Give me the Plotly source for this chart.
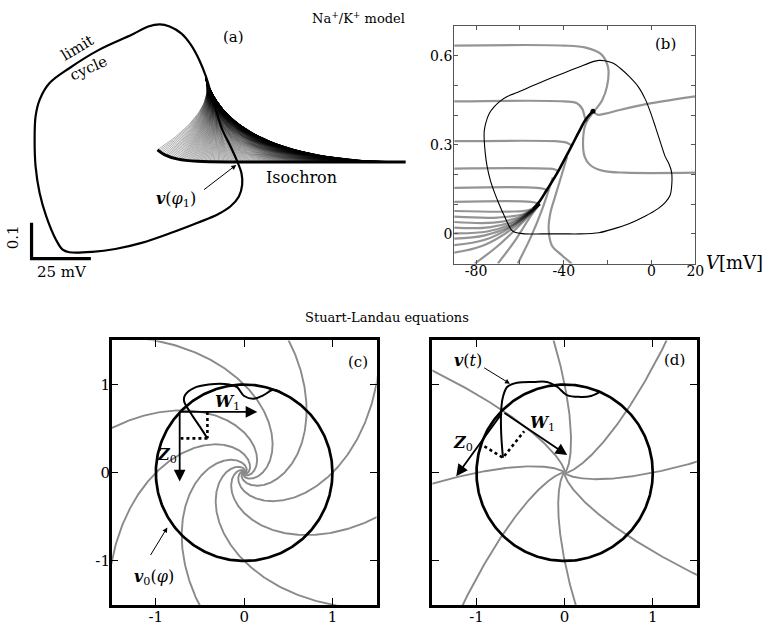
import numpy as np
import plotly.graph_objects as go

W, H = 777, 626
SERIF = "DejaVu Serif"
GRAY = "rgba(0,0,0,0.42)"

# ---------------- (a) Na+/K+ limit cycle (V in mV, n gating variable) ----------------
cycle_a_V = [-70.8, -61.1, -51.4, -40.3, -27.8, -16.7, -8.3, -2.8, 0.7, 2.1, 1.8, 0.3,
             -2.8, -6.3, -9.0, -11.1, -13.2, -16.0, -19.5, -23.6, -28.5, -32.6, -37.5,
             -44.5, -58.3, -70.8, -79.2, -83.3, -85.0, -85.4, -85.0, -83.3, -80.5, -76.4,
             -73.6, -70.8]
cycle_a_n = [0.001, 0.002, 0.010, 0.027, 0.055, 0.083, 0.106, 0.129, 0.156, 0.189, 0.221,
             0.249, 0.295, 0.342, 0.397, 0.444, 0.490, 0.536, 0.578, 0.610, 0.629, 0.635,
             0.629, 0.606, 0.564, 0.513, 0.471, 0.425, 0.379, 0.314, 0.240, 0.166, 0.101,
             0.036, 0.008, 0.001]
iso_a_V = [-33.6, -30.5, -25.0, -16.7, 0.0, 25.0, 71.0]
iso_a_n = [0.286, 0.272, 0.260, 0.254, 0.252, 0.252, 0.252]
# trajectories from the isochron rejoin the cycle here; bend points for the two extreme ones
fan_end = (-13.33, 0.486)
fan_bend_first = (-9.17, 0.392)
fan_bend_last = (-2.08, 0.2528)
n_fan = 180
scale_mV = 25
scale_n = 0.1
scale_corner = (-86.7, -0.0167)

# ---------------- (b) Na+/K+ phase plane ----------------
cycle_b_V = [-62.6, -58, -50, -40, -32.7, -24, -17.7, -10, -2.75, 3, 6.2, 8.5, 9.2, 9.2, 8,
             6.2, 4, 1.7, -0.5, -2.75, -6, -10.2, -14, -17.7, -21.4, -24, -26.7, -33, -40.2,
             -48, -55.1, -60, -65.6, -69, -71.6, -74, -75.6, -76.3, -76.3, -75.8, -75.0, -73.5,
             -71.6, -69.5, -67.1, -64.1, -62.6]
cycle_b_n = [0.006, 0, 0, 0, 0, 0.004, 0.016, 0.035, 0.06, 0.085, 0.105, 0.13, 0.161, 0.206,
             0.235, 0.261, 0.31, 0.362, 0.41, 0.452, 0.495, 0.53, 0.556, 0.575, 0.583, 0.584,
             0.58, 0.562, 0.541, 0.518, 0.496, 0.48, 0.463, 0.447, 0.429, 0.405, 0.373, 0.345,
             0.317, 0.27, 0.228, 0.18, 0.139, 0.1, 0.06, 0.015, 0.006]
front_V = [-54, -51, -48, -45, -42, -39, -36, -33, -30, -26.7]
front_n = [0.085, 0.11, 0.145, 0.18, 0.218, 0.26, 0.302, 0.345, 0.385, 0.413]
iso_b_V = [
    [-90, -40, -30, -23, -19.8, -20.2, -22.5, -26],
    [-90, -40, -34, -31.5, -30.5, -29.5],
    [20, 0, -14, -21, -24.5, -26.5],
    [-27, -30, -31.2, -30.5, -28, -22, -12, 20],
    [-90, -44, -39, -36.5],
    [-90, -48, -44, -42.5],
    [-90, -52, -48.5, -47],
    [-90, -55, -52, -51],
    [-90, -65, -56, -51],
    [-90, -70, -58, -51],
    [-90, -72, -60, -51],
    [-90, -74, -61, -51],
    [-90, -75, -62, -51],
    [-90, -76, -62, -51],
    [-90, -76, -63, -51],
    [-90, -77, -63, -51],
    [-80.6, -70, -60, -51],
    [-70.1, -62, -56, -51],
    [-61, -55, -50, -45],
    [-36.4, -42, -45.4, -46.9, -46.1, -43.9, -41.6, -39.5, -38.5],
]
iso_b_n = [
    [0.634, 0.634, 0.627, 0.605, 0.56, 0.5, 0.45, 0.415],
    [0.446, 0.446, 0.44, 0.42, 0.395, 0.378],
    [0.463, 0.44, 0.418, 0.405, 0.401, 0.412],
    [0.405, 0.37, 0.32, 0.26, 0.232, 0.212, 0.206, 0.206],
    [0.312, 0.312, 0.308, 0.298],
    [0.22, 0.22, 0.217, 0.21],
    [0.155, 0.155, 0.15, 0.145],
    [0.108, 0.108, 0.103, 0.098],
    [0.077, 0.075, 0.08, 0.1],
    [0.058, 0.055, 0.068, 0.1],
    [0.04, 0.038, 0.057, 0.1],
    [0.021, 0.022, 0.048, 0.1],
    [0.002, 0.008, 0.04, 0.1],
    [-0.016, -0.005, 0.035, 0.1],
    [-0.038, -0.02, 0.028, 0.1],
    [-0.063, -0.04, 0.02, 0.1],
    [-0.1, -0.04, 0.03, 0.1],
    [-0.1, -0.02, 0.05, 0.1],
    [-0.1, -0.01, 0.08, 0.19],
    [-0.1, -0.065, -0.04, 0.015, 0.071, 0.127, 0.183, 0.235, 0.26],
]
b_xticks = [-80, -40, 0, 20]
b_yticks = [0, 0.3, 0.6]

# ---------------- (c), (d) Stuart-Landau ----------------
iso_phases_deg = [0, 45, 90, 135, 180, 225, 270, 315]
twist_c = 1.0
twist_d = 0.2
r_cycle = 1.0
cd_ticks = [-1, 0, 1]
traj_c_x = [-0.416, -0.50, -0.60, -0.68, -0.67, -0.57, -0.40, -0.17, -0.08, 0.0, 0.11, 0.22, 0.33, 0.42]
traj_c_y = [0.39, 0.52, 0.67, 0.81, 0.88, 0.96, 1.0, 1.0, 0.97, 0.87, 0.84, 0.88, 0.94, 0.907]
traj_d_x = [-0.70, -0.72, -0.72, -0.70, -0.65, -0.54, -0.35, -0.2, -0.086, 0.026, 0.176, 0.30, 0.40]
traj_d_y = [0.17, 0.45, 0.71, 0.86, 0.975, 1.02, 1.03, 1.03, 0.975, 0.88, 0.86, 0.87, 0.917]
base_c = (-0.73, 0.69)
W1_c = (0.15, 0.69)
Z0_c = (-0.73, -0.10)
dots_c_x = [-0.416, -0.416, None, -0.416, -0.72]
dots_c_y = [0.69, 0.39, None, 0.39, 0.39]
base_d = (-0.70, 0.69)
W1_d = (0.03, 0.20)
Z0_d = (-1.23, -0.04)
dots_d_x = [-0.91, -0.70, -0.46]
dots_d_y = [0.30, 0.17, 0.47]


def xdom(a, b):
    return [a / W, b / W]


def ydom(top, bottom):
    return [1 - bottom / H, 1 - top / H]


fig = go.Figure()


def line(x, y, ax, color="black", width=1.5, dash=None, shape="linear", smoothing=1.0):
    fig.add_trace(go.Scatter(
        x=x, y=y, mode="lines", xaxis="x" + ax, yaxis="y" + ax, hoverinfo="skip",
        line=dict(color=color, width=width, dash=dash, shape=shape, smoothing=smoothing),
        showlegend=False))


# ---- (a): limit cycle underneath, then the fan of trajectories leaving the isochron
line(cycle_a_V, cycle_a_n, "", width=2.2, shape="spline")
iV0, iV1 = iso_a_V[0], iso_a_V[-1]
t = np.linspace(0, 1, 30)
for sV in np.linspace(iV0, iV1, n_fan):
    u = (sV - iV0) / (iV1 - iV0)
    sn = np.interp(sV, iso_a_V, iso_a_n)
    cV = fan_bend_first[0] + (fan_bend_last[0] - fan_bend_first[0]) * u
    cn = fan_bend_first[1] + (fan_bend_last[1] - fan_bend_first[1]) * u
    bV = (1 - t) ** 2 * sV + 2 * (1 - t) * t * cV + t ** 2 * fan_end[0]
    bn = (1 - t) ** 2 * sn + 2 * (1 - t) * t * cn + t ** 2 * fan_end[1]
    alpha = 0.42 + 0.18 * u
    line(bV, bn, "", color=f"rgba(0,0,0,{alpha:.3f})", width=0.75)

line(iso_a_V, iso_a_n, "", width=3.0, shape="spline")
sx, sy = scale_corner
line([sx, sx, sx + scale_mV], [sy + scale_n, sy, sy], "", width=3.2)

# ---- (b)
for xs, ys in zip(iso_b_V, iso_b_n):
    line(xs, ys, "2", color=GRAY, width=2.2, shape="spline")
line(cycle_b_V, cycle_b_n, "2", width=1.1, shape="spline", smoothing=0.7)
line(front_V, front_n, "2", width=2.6, shape="spline")
fig.add_trace(go.Scatter(x=[front_V[-1]], y=[front_n[-1]], mode="markers", xaxis="x2", yaxis="y2",
                         marker=dict(size=5, color="black"), showlegend=False, hoverinfo="skip"))

# ---- (c), (d)
r = np.geomspace(0.004, 2.3, 500)
phi = np.linspace(0, 2 * np.pi, 300)
for ax, twist in (("3", twist_c), ("4", twist_d)):
    for p in iso_phases_deg:
        th = np.deg2rad(p) + twist * np.log(r)
        line(r * np.cos(th), r * np.sin(th), ax, color="#8a8a8a", width=1.9)
    line(r_cycle * np.cos(phi), r_cycle * np.sin(phi), ax, width=2.7)

line(traj_c_x, traj_c_y, "3", width=2.0, shape="spline")
line(dots_c_x, dots_c_y, "3", width=2.6, dash="dot")
line(traj_d_x, traj_d_y, "4", width=2.0, shape="spline")
line(dots_d_x, dots_d_y, "4", width=2.6, dash="dot")

annotations = []


def text(x, y, s, ax="", size=15, angle=0, xanchor="center", yanchor="middle"):
    annotations.append(dict(x=x, y=y, xref="x" + ax, yref="y" + ax, text=s, showarrow=False,
                            textangle=angle, xanchor=xanchor, yanchor=yanchor,
                            font=dict(family=SERIF, size=size, color="black")))


def arrow(tail, head, ax, width=1.0, size=1.0, head_style=2):
    annotations.append(dict(x=head[0], y=head[1], ax=tail[0], ay=tail[1], xref="x" + ax, yref="y" + ax,
                            axref="x" + ax, ayref="y" + ax, text="", showarrow=True,
                            arrowhead=head_style, arrowsize=size, arrowwidth=width,
                            arrowcolor="black", standoff=0, startstandoff=0))


def paper_text(px, py, s, size=13, angle=0, xanchor="center"):
    annotations.append(dict(x=px / W, y=1 - py / H, xref="paper", yref="paper", text=s,
                            showarrow=False, textangle=angle, xanchor=xanchor, yanchor="middle",
                            font=dict(family=SERIF, size=size, color="black")))


paper_text(363, 18, "Na<sup>+</sup>/K<sup>+</sup> model", size=13)
paper_text(392, 318, "Stuart-Landau equations", size=13)

# (a) labels
text(-1.5, 0.60, "(a)", size=15)
text(-67.5, 0.569, "limit", size=15, angle=-31)
text(-62.5, 0.514, "cycle", size=15, angle=-24)
text(27, 0.208, "Isochron", size=16)
text(-25.8, 0.147, "<b><i>v</i></b>(<i>φ</i><sub>1</sub>)", size=16)
arrow((-14.6, 0.172), (-0.4, 0.244), "", width=1.0, size=1.0)
text(-94.2, 0.042, "0.1", size=15, angle=-90)
text(-73.75, -0.053, f"{scale_mV} mV", size=15)

# (b) labels
text(6.5, 0.64, "(b)", "2", size=15)
paper_text(743, 263, "<i>V</i>[mV]", size=18)

# (c) labels
arrow(base_c, W1_c, "3", width=1.8, size=1.3)
arrow(base_c, Z0_c, "3", width=1.8, size=1.3)
text(-0.19, 0.80, "<b><i>W</i></b><sub>1</sub>", "3", size=16)
text(-0.87, 0.20, "<b><i>Z</i></b><sub>0</sub>", "3", size=16)
text(1.29, 1.26, "(c)", "3", size=15)
text(-1.02, -1.19, "<b><i>v</i></b><sub>0</sub>(<i>φ</i>)", "3", size=16)
arrow((-1.07, -0.95), (-0.87, -0.62), "3", width=1.0, size=1.0)

# (d) labels
arrow(base_d, W1_d, "4", width=1.8, size=1.3)
arrow(base_d, Z0_d, "4", width=1.8, size=1.3)
text(-0.25, 0.56, "<b><i>W</i></b><sub>1</sub>", "4", size=16)
text(-1.15, 0.33, "<b><i>Z</i></b><sub>0</sub>", "4", size=16)
text(1.25, 1.28, "(d)", "4", size=15)
text(-1.10, 1.27, "<b><i>v</i></b>(<i>t</i>)", "4", size=16)
arrow((-0.93, 1.2), (-0.62, 1.01), "4", width=1.0, size=1.0)

tickfont_b = dict(family=SERIF, size=14, color="black")
tickfont_cd = dict(family=SERIF, size=15, color="black")


def fmt(v):
    return f"{v:g}"


hidden = dict(visible=False, showgrid=False, zeroline=False, fixedrange=True)
b_common = dict(showgrid=False, zeroline=False, showline=True, linecolor="#555", linewidth=1,
                ticks="inside", ticklen=4, tickcolor="#555", mirror="allticks", tickfont=tickfont_b)
cd_common = dict(showgrid=False, zeroline=False, showline=True, linecolor="black", linewidth=2.5,
                 ticks="inside", ticklen=7, tickwidth=1.3, tickcolor="black", mirror="allticks",
                 tickfont=tickfont_cd, range=[-1.5, 1.5], tickvals=cd_ticks,
                 ticktext=[fmt(v) for v in cd_ticks], ticklabelstandoff=-4)

fig.update_layout(
    width=W, height=H, margin=dict(l=0, r=0, t=0, b=0),
    paper_bgcolor="white", plot_bgcolor="white", showlegend=False,
    xaxis=dict(domain=xdom(0, 420), range=[-100, 75], **hidden),
    yaxis=dict(domain=ydom(0, 290), range=[-0.1028, 0.7028], **hidden),
    xaxis2=dict(domain=xdom(459.5, 703.5), range=[-90, 20], anchor="y2", ticklabelstandoff=-5,
                tickvals=b_xticks, ticktext=[fmt(v) for v in b_xticks],
                minor=dict(tick0=-80, dtick=20, ticks="inside", ticklen=4, tickcolor="#555"),
                **b_common),
    yaxis2=dict(domain=ydom(26, 264), range=[-0.1, 0.7], anchor="x2", ticklabelstandoff=-2,
                tickvals=b_yticks, ticktext=[fmt(v) for v in b_yticks],
                minor=dict(tick0=0, dtick=0.1, ticks="inside", ticklen=4, tickcolor="#555"),
                **b_common),
    xaxis3=dict(domain=xdom(113, 381), anchor="y3", **cd_common),
    yaxis3=dict(domain=ydom(341, 606), anchor="x3", **cd_common),
    xaxis4=dict(domain=xdom(437.5, 705), anchor="y4", **cd_common),
    yaxis4=dict(domain=ydom(341, 606), anchor="x4", showticklabels=False,
                **{k: v for k, v in cd_common.items() if k != "ticklabelstandoff"}),
    annotations=annotations,
)

fig.write_html("out.html")
